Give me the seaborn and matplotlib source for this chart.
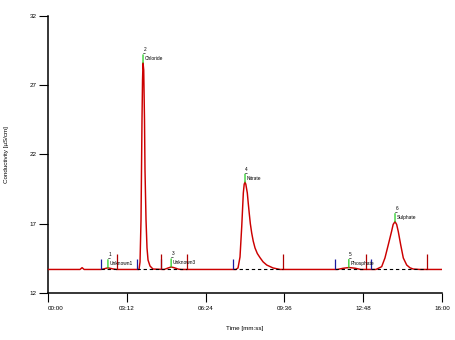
import numpy as np
import pandas as pd
import matplotlib
matplotlib.use("Agg")
import matplotlib.pyplot as plt
import seaborn as sns

# ---- data (time in seconds, conductivity in uS/cm) ----
time_s = [0, 78, 83, 88, 129, 136, 146, 158, 168,
          221.7, 224.2, 226.6, 229.0, 230.3, 231.5, 233.2, 235.1, 236.3, 238.8, 241.2, 243.7, 248.5, 255.8,
          283, 292, 300, 308, 318, 325,
          458, 463, 467.8, 472, 475.9, 478, 480, 482, 485.6, 488, 490.5, 493, 496.3, 500, 504.4, 510, 516.6,
          524, 532.9, 548.2, 565.3,
          705, 718, 733, 748, 762,
          799, 813, 821, 829, 837, 841, 845.5, 849.5, 853.5, 859.4, 865.7, 874, 882, 890, 906, 960]
conductivity = [13.70, 13.70, 13.83, 13.70, 13.70, 13.74, 13.82, 13.74, 13.70,
                13.70, 14.24, 17.27, 24.49, 27.38, 28.61, 28.10, 24.49, 20.88, 17.27, 15.25, 14.38, 13.95, 13.73,
                13.70, 13.80, 13.88, 13.82, 13.72, 13.70,
                13.70, 13.81, 14.60, 16.79, 19.22, 19.85, 20.00, 19.85, 19.22, 18.45, 17.70, 17.00, 16.33, 15.75,
                15.25, 14.85, 14.55, 14.25, 14.02, 13.81, 13.70,
                13.70, 13.78, 13.84, 13.79, 13.70,
                13.70, 13.90, 14.53, 15.47, 16.43, 16.95, 17.15, 16.95, 16.43, 15.47, 14.53, 14.02, 13.82,
                13.73, 13.70, 13.70]

peak_names = ["Unknown1", "Chloride", "Unknown3", "Nitrate", "Phosphate", "Sulphate"]
peak_numbers = ["1", "2", "3", "4", "5", "6"]
window_start_s = [129, 217, 275, 451, 699, 787]
window_end_s = [168, 275, 339, 573, 775, 923]
baseline_value = 13.70

x_tick_values = [0, 192, 384, 576, 768, 960]
x_tick_labels = ["00:00", "03:12", "06:24", "09:36", "12:48", "16:00"]
y_tick_values = [12, 17, 22, 27, 32]

# ---- drawing ----
sns.set_theme(style="white")
plt.rcParams["font.family"] = ["Liberation Sans", "DejaVu Sans"]

fig = plt.figure(figsize=(4.56, 3.4), dpi=100)
ax = fig.add_axes([0.1053, 0.1382, 0.864, 0.815])

df = pd.DataFrame({"Time": time_s, "Conductivity": conductivity})
sns.lineplot(data=df, x="Time", y="Conductivity", ax=ax, color="#cc0000",
             linewidth=1.05, estimator=None, sort=False, zorder=3)

# integration baselines and window markers
ax.hlines([baseline_value] * len(window_start_s), window_start_s, window_end_s,
          colors="black", linestyles=(0, (3, 2.5)), linewidth=0.8, zorder=4)
ax.vlines(window_start_s, baseline_value, baseline_value + 0.75,
          colors="#1a1aa0", linewidth=0.9, zorder=5)
ax.vlines(window_end_s, baseline_value, baseline_value + 1.1,
          colors="#b00000", linewidth=0.9, zorder=5)

# peak labels
t_arr = np.array(time_s)
v_arr = np.array(conductivity)
for name, num, s, e in zip(peak_names, peak_numbers, window_start_s, window_end_s):
    mask = (t_arr >= s) & (t_arr <= e)
    idx = np.argmax(np.where(mask, v_arr, -np.inf))
    tp, vp = t_arr[idx], v_arr[idx]
    ax.annotate("", xy=(tp, vp), xytext=(0, 5.8), textcoords="offset points",
                arrowprops=dict(arrowstyle="-", color="#22cc22", lw=0.9,
                                shrinkA=0, shrinkB=0), zorder=6)
    ax.annotate("\u2212", xy=(tp, vp), xytext=(0.8, 6.2), textcoords="offset points",
                fontsize=3.4, ha="center", va="center", color="black", zorder=7)
    ax.annotate(num, xy=(tp, vp), xytext=(1.2, 9.4), textcoords="offset points",
                fontsize=3.4, ha="center", va="center", color="black", zorder=7)
    ax.annotate(name, xy=(tp, vp), xytext=(1.3, 3.0), textcoords="offset points",
                fontsize=3.5, ha="left", va="center", color="black", zorder=7)

ax.set_xlim(0, 960)
ax.set_ylim(12, 32)
ax.set_xticks(x_tick_values)
ax.set_xticklabels(x_tick_labels)
ax.set_yticks(y_tick_values)
ax.get_xticklabels()[0].set_horizontalalignment("left")

ax.tick_params(axis="both", which="both", direction="out", length=6.5, width=0.8,
               colors="black", labelsize=4.5, bottom=True, left=True, pad=1.5)
ax.tick_params(axis="x", pad=2.5)

for side in ["top", "right"]:
    ax.spines[side].set_visible(False)
for side in ["left", "bottom"]:
    ax.spines[side].set_color("black")
    ax.spines[side].set_linewidth(1.1)

ax.set_xlabel("Time [mm:ss]", fontsize=4.5, color="black")
ax.set_ylabel("Conductivity [\u00b5S/cm]", fontsize=4.5, color="black")
ax.xaxis.set_label_coords(0.5, -0.119)
ax.yaxis.set_label_coords(-0.099, 0.5)
ax.grid(False)

fig.savefig("out.png", dpi=100, facecolor="white")
